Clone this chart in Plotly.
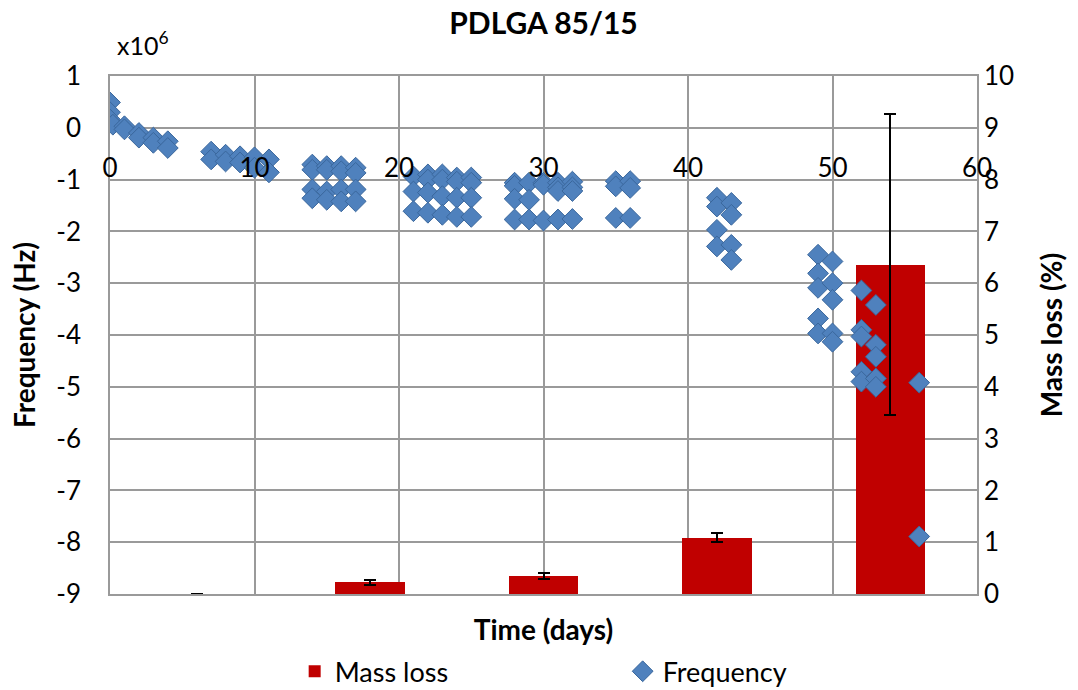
import plotly.graph_objects as go

# Frequency readings (units of 10^6 Hz) against immersion time (days)
days = [
    0, 0, 0, 0.2,
    1, 1, 2, 2, 3, 3, 4, 4,
    7, 7, 8, 8, 9, 9, 10, 10, 11, 11,
    14, 14, 14, 14, 15, 15, 15, 15, 16, 16, 16, 16, 17, 17, 17, 17,
    21, 21, 21, 22, 22, 22, 22, 23, 23, 23, 23, 24, 24, 24, 24, 25, 25, 25, 25,
    28, 28, 28, 28, 29, 29, 29, 30, 30, 30, 31, 31, 31, 31, 32, 32, 32, 32,
    35, 35, 35, 36, 36, 36,
    42, 42, 42, 42, 43, 43, 43, 43,
    49, 49, 49, 49, 49, 50, 50, 50, 50, 50,
    52, 52, 52, 52, 52, 53, 53, 53, 53, 53,
    56, 56,
]
frequency_e6 = [
    0.49, 0.30, 0.16, 0.06,
    0.03, -0.03, -0.10, -0.19, -0.19, -0.29, -0.26, -0.39,
    -0.46, -0.61, -0.52, -0.65, -0.55, -0.67, -0.57, -0.77, -0.61, -0.86,
    -0.71, -0.81, -1.19, -1.36, -0.74, -0.81, -1.23, -1.39,
    -0.74, -0.84, -1.19, -1.42, -0.77, -0.87, -1.19, -1.42,
    -0.94, -1.23, -1.61, -0.90, -1.00, -1.25, -1.64, -0.90, -1.00, -1.32, -1.68,
    -0.96, -1.04, -1.35, -1.72, -0.96, -1.06, -1.35, -1.72,
    -1.06, -1.12, -1.37, -1.77, -1.06, -1.39, -1.77, -1.06, -1.10, -1.79,
    -1.06, -1.15, -1.22, -1.77, -1.04, -1.15, -1.22, -1.76,
    -1.03, -1.13, -1.74, -1.03, -1.16, -1.74,
    -1.35, -1.52, -1.97, -2.29, -1.45, -1.68, -2.26, -2.55,
    -2.45, -2.81, -3.09, -3.68, -3.97, -2.58, -3.00, -3.32, -3.97, -4.13,
    -3.14, -3.90, -4.03, -4.71, -4.90, -3.42, -4.19, -4.42, -4.84, -5.00,
    -4.92, -7.89,
]

# Mass loss (%) per sampling point, with standard deviation
mass_samples = ["S1", "S2", "S3", "S4", "S5"]
mass_loss = [0.0, 0.23, 0.35, 1.09, 6.36]
mass_loss_sd = [0.0, 0.05, 0.06, 0.08, 2.90]

# Axis ticks
day_ticks = [0, 10, 20, 30, 40, 50, 60]
freq_ticks = [1, 0, -1, -2, -3, -4, -5, -6, -7, -8, -9]
freq_tick_text = ["1", "0", "-1", "-2", "-3", "-4", "-5", "-6", "-7", "-8", "-9"]
mass_ticks = [0, 1, 2, 3, 4, 5, 6, 7, 8, 9, 10]

FONT = "Lato"
GRID = "#9a9a9a"

fig = go.Figure()

fig.add_trace(go.Bar(
    x=mass_samples, y=mass_loss, name="Mass loss",
    xaxis="x", yaxis="y", width=0.4,
    marker=dict(color="#c00000", line=dict(width=0)),
    error_y=dict(type="data", array=mass_loss_sd, visible=True,
                 color="black", thickness=2, width=6),
))

fig.add_trace(go.Scatter(
    x=days, y=frequency_e6, name="Frequency", mode="markers",
    xaxis="x2", yaxis="y2",
    marker=dict(symbol="diamond", size=16, color="#4f81bd",
                line=dict(color="#3a679c", width=1)),
))

fig.update_layout(
    width=1078, height=690,
    margin=dict(l=110, r=101, t=76, b=96, autoexpand=False),
    paper_bgcolor="white", plot_bgcolor="white",
    font=dict(family=FONT, size=26, color="black"),
    title=dict(text="<b>PDLGA 85/15</b>", x=0.5, xref="paper",
               y=0.966, yref="container", yanchor="middle",
               font=dict(size=30)),
    showlegend=True,
    legend=dict(orientation="h", x=0.213, xanchor="left", y=-0.15,
                yanchor="middle", entrywidth=283, entrywidthmode="pixels",
                font=dict(size=27), bgcolor="rgba(0,0,0,0)"),
    bargap=0,
    # bar categories along the bottom; carries the time title
    xaxis=dict(range=[-0.5, 4.5], showticklabels=False, showgrid=False,
               zeroline=False, showline=True, mirror=True, linecolor=GRID,
               linewidth=1.5, automargin=False,
               title=dict(text="<b>Time (days)</b>", standoff=26,
                          font=dict(size=28))),
    # mass loss on the right
    yaxis=dict(range=[0, 10], tickvals=mass_ticks, side="right",
               showgrid=False, zeroline=False, ticks="", automargin=False,
               ticklabelstandoff=6,
               title=dict(text="<b>Mass loss (%)</b>", font=dict(size=28),
                          standoff=29)),
    # time axis crossing the frequency axis at zero
    xaxis2=dict(overlaying="x", anchor="free", position=0.899,
                range=[0, 60], tickvals=day_ticks, showgrid=True,
                gridcolor=GRID, gridwidth=1.5, zeroline=False, automargin=False,
                showline=False, ticks="", ticklabelstandoff=22),
    # frequency on the left
    yaxis2=dict(overlaying="y", side="left", anchor="x2",
                range=[-9, 1], tickvals=freq_ticks, ticktext=freq_tick_text,
                showgrid=True, gridcolor=GRID, gridwidth=1.5, zeroline=False,
                showline=True, mirror=True, linecolor=GRID, linewidth=1.5,
                ticks="", ticklabelstandoff=22, automargin=False,
                title=dict(text="<b>Frequency (Hz)</b>", font=dict(size=28),
                           standoff=12)),
    annotations=[dict(text="x10<sup>6</sup>", xref="paper", yref="paper",
                      x=0.006, y=1.062, xanchor="left", yanchor="middle",
                      showarrow=False, font=dict(size=25))],
)

fig.write_html("out.html")
